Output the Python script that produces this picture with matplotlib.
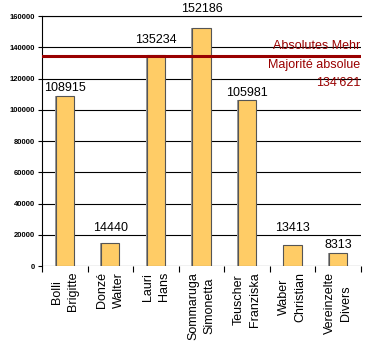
import numpy as np
import matplotlib.pyplot as plt

candidates = ["Bolli\nBrigitte", "Donzé\nWalter", "Lauri\nHans", "Sommaruga\nSimonetta",
              "Teuscher\nFranziska", "Waber\nChristian", "Vereinzelte\nDivers"]
votes = [108915, 14440, 135234, 152186, 105981, 13413, 8313]
absolute_majority = 134621
y_ticks = [0, 20000, 40000, 60000, 80000, 100000, 120000, 140000, 160000]

plt.rcParams["font.family"] = ["Liberation Sans", "DejaVu Sans"]

fig = plt.figure(figsize=(3.7, 3.48), dpi=100)
ax = fig.add_axes([0.1135, 0.2356, 0.862, 0.7184])

x = np.arange(len(votes))
# shadow behind each bar, then the bar itself
ax.bar(x - 0.02, votes, width=0.4, color="#999999", zorder=2)
ax.bar(x, votes, width=0.4, color="#FFCC66", edgecolor="#555555", linewidth=0.8, zorder=3)

# value labels sit just above the bar, pushed up past any grid line they would cross
digit_h = 5400
for xi, v in zip(x, votes):
    base = v + 3000
    for g in y_ticks:
        if base - 800 < g < base + digit_h + 800:
            base = g + 2500
    ax.text(xi, base, str(v), ha="center", va="baseline", fontsize=9, zorder=4)

ax.axhline(absolute_majority, color="#990000", linewidth=2.2, zorder=5)
ax.text(6.48, absolute_majority + 2300, "Absolutes Mehr", color="#990000",
        ha="right", va="bottom", fontsize=9)
ax.text(6.48, absolute_majority - 2300, "Majorité absolue", color="#990000",
        ha="right", va="top", fontsize=9)
ax.text(6.48, absolute_majority - 13500, "134'621", color="#990000",
        ha="right", va="top", fontsize=9)

ax.set_xlim(-0.5, 6.5)
ax.set_ylim(0, 160000)
ax.set_yticks(y_ticks)
ax.set_yticklabels([str(t) for t in y_ticks], fontsize=5.5, fontweight="bold")
ax.yaxis.grid(True, color="black", linewidth=0.8, zorder=1)
ax.set_axisbelow(True)

# category boundary ticks, labels centred under bars
ax.set_xticks(np.arange(-0.5, 7, 1.0))
ax.set_xticklabels([])
ax.tick_params(axis="x", direction="out", length=4, width=0.8)
ax.tick_params(axis="y", direction="out", length=3, width=0.8, pad=2)
for xi, name in zip(x, candidates):
    ax.text(xi, -3800, name, rotation=90, ha="center", va="top", fontsize=9,
            multialignment="center", linespacing=1.5)

for side in ["right", "bottom"]:
    ax.spines[side].set_visible(False)
ax.spines["left"].set_color("black")
ax.spines["top"].set_linewidth(0.8)
ax.spines["left"].set_linewidth(0.8)

fig.savefig("out.png", dpi=100)
